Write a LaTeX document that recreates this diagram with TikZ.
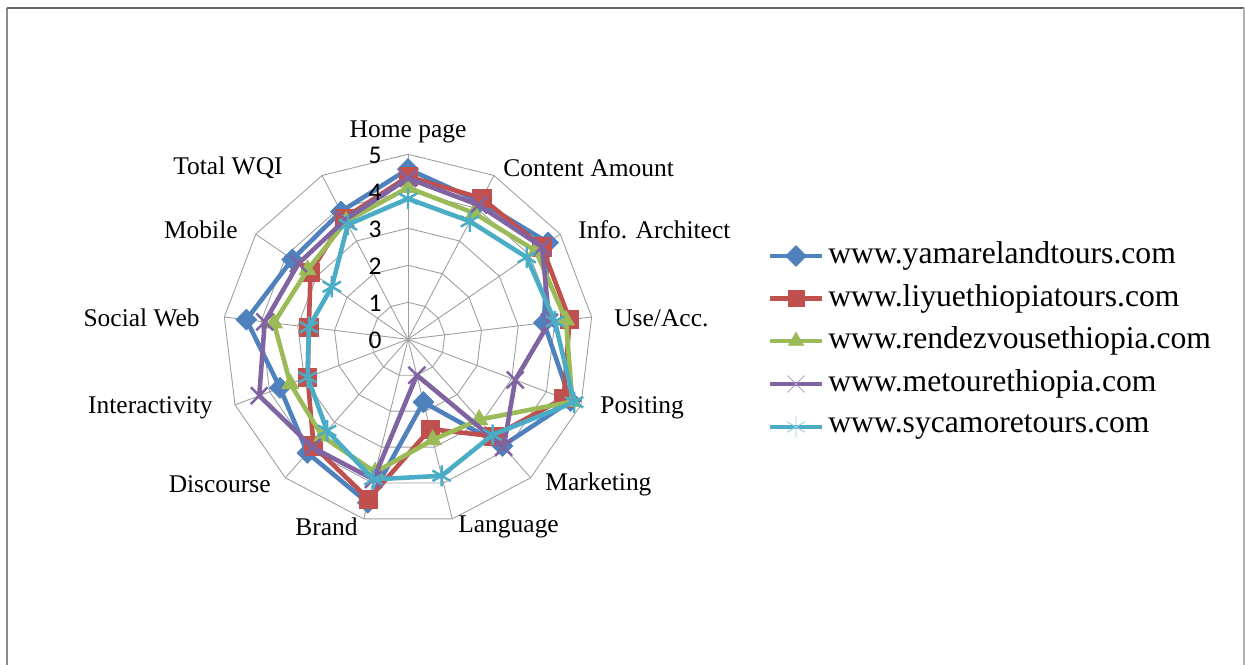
\documentclass[tikz,border=0pt]{standalone}
\usepackage{fontspec}
\setmainfont{Liberation Serif}
\newfontfamily\numfont{Carlito}
\usepackage{xcolor}
\usepackage{tikz}
\usetikzlibrary{positioning, plotmarks}

\definecolor{wqiBlue}{HTML}{4F81BD}
\definecolor{wqiRed}{HTML}{C0504D}
\definecolor{wqiGreen}{HTML}{9BBB59}
\definecolor{wqiPurple}{HTML}{8064A2}
\definecolor{wqiCyan}{HTML}{4BACC6}

\tikzset{
    gridline/.style={draw=black!38, line width=0.5pt},
    series/.style={line width=2.6pt, line join=round},
    axislabel/.style={font=\fontsize{14.5}{16}\selectfont, inner sep=0pt},
    ticklabel/.style={font=\numfont\fontsize{14.5}{15}\selectfont, inner sep=0pt, anchor=east},
    legendtext/.style={font=\fontsize{18}{20}\selectfont, inner sep=0pt, anchor=west},
    yamline/.style={draw=wqiBlue},
    liyline/.style={draw=wqiRed},
    renline/.style={draw=wqiGreen},
    metline/.style={draw=wqiPurple},
    sycline/.style={draw=wqiCyan},
    yammark/.style={draw=wqiBlue, fill=wqiBlue, mark=square*, mark size=4.2pt, mark options={rotate=45, line width=0.4pt}},
    liymark/.style={draw=wqiRed, fill=wqiRed, mark=square*, mark size=5.2pt, mark options={line width=0.4pt}},
    renmark/.style={draw=wqiGreen, fill=wqiGreen, mark=triangle*, mark size=5.6pt, mark options={line width=0.4pt}},
    metmark/.style={draw=wqiPurple, mark=x, mark size=6.8pt, mark options={line width=1.4pt}},
    sycmark/.style={draw=wqiCyan, mark=asterisk, mark size=6pt, mark options={line width=1.4pt}},
}

\begin{document}
\begin{tikzpicture}[x=0.02cm, y=0.02cm]
    \useasboundingbox (0,0) rectangle (1245,665);
    \draw[black!45, line width=1pt] (7,0) -- (7,657);
    \draw[black!60, line width=1.2pt] (6.5,657) -- (1244,657);
    \draw[black!30, line width=0.6pt] (1244,657) -- (1244,0);

    \begin{scope}[shift={(408,325.7)}]
        \foreach \r in {37,74,...,185} {
            \draw[gridline] (90:\r) \foreach \k in {1,...,12} {-- ({90-\k*360/13}:\r)} -- cycle;
        }
        \foreach \k in {0,...,12} {
            \draw[gridline] (0,0) -- ({90-\k*360/13}:185);
        }
        \foreach \nm/\vals in {yam/{4.6,4.2,4.6,3.7,4.7,3.85,1.75,4.55,4.1,3.7,4.4,3.8,3.9},
                               liy/{4.4,4.3,4.4,4.4,4.5,3.5,2.5,4.45,3.85,2.9,2.7,3.2,3.7},
                               ren/{4.1,3.85,4.2,4.3,4.75,2.9,2.8,3.7,3.5,3.4,3.65,3.3,3.6},
                               met/{4.35,4.1,4.4,3.85,3.1,3.9,1.0,3.9,3.9,4.3,3.9,3.6,3.65},
                               syc/{3.8,3.6,3.9,4.0,4.8,3.45,3.8,3.9,3.3,2.9,2.7,2.5,3.5}} {
            \foreach \v [count=\k from 0] in \vals {
                \coordinate (\nm\k) at ({90-\k*360/13}:\v*37);
            }
            \draw[series, \nm line] (\nm0) \foreach \k in {1,...,12} {-- (\nm\k)} -- cycle;
            \foreach \k in {0,...,12} {
                \draw[\nm mark] plot coordinates {(\nm\k)};
            }
        }
    \end{scope}

    \foreach \v in {0,...,5} {
        \node[ticklabel] (tick\v) at (382, 325+37*\v) {\v};
    }

    \foreach \x/\y/\a/\t [count=\i] in {408/533/center/Home page, 503/497/west/Content Amount,
        578/435/west/Info. Architect, 614/347/west/{Use/Acc.}, 600/257/west/Positing,
        545/181/west/Marketing, 458/138/west/Language, 358/138/east/Brand,
        271/181/east/Discourse, 213/257/east/Interactivity, 200/347/east/Social Web,
        238/435/east/Mobile, 283/497/east/Total WQI} {
        \node[axislabel, anchor=\a] (axis\i) at (\x,\y) {\t};
    }

    \foreach \nm/\y/\t in {yam/409/www.yamarelandtours.com, liy/366.5/www.liyuethiopiatours.com,
        ren/324/www.rendezvousethiopia.com, met/281/www.metourethiopia.com,
        syc/238/www.sycamoretours.com} {
        \coordinate (\nm a) at (770,\y);
        \coordinate (\nm b) at (822,\y);
        \coordinate (\nm c) at (796,\y);
        \node[legendtext] (\nm text) at (828,\y) {\t};
        \draw[series, \nm line] (\nm a) -- (\nm b);
    }
    \draw[yammark] plot coordinates {(yamc)};
    \draw[liymark, mark size=4.6pt] plot coordinates {(liyc)};
    \draw[renmark, mark size=5pt] plot coordinates {(renc)};
    \draw[metmark, mark options={line width=0.5pt, draw=wqiPurple!60}] plot coordinates {(metc)};
    \draw[sycmark, mark options={line width=0.5pt, draw=wqiCyan!60}] plot coordinates {(sycc)};
\end{tikzpicture}
\end{document}
